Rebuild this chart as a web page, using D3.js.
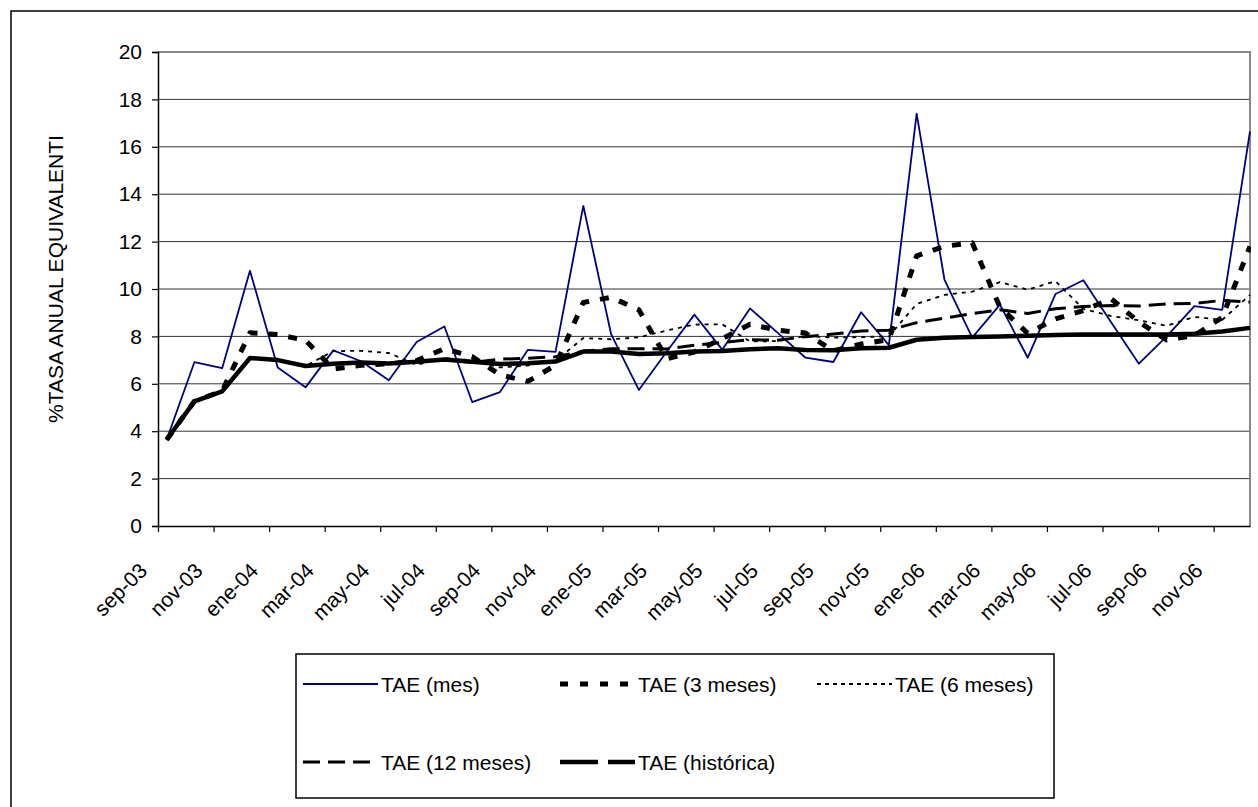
<!DOCTYPE html>
<html>
<head>
<meta charset="utf-8">
<script src="https://cdn.jsdelivr.net/npm/d3@7/dist/d3.min.js"></script>
<style>
  html, body { margin: 0; padding: 0; background: #fff; }
  svg { display: block; }
  text { font-family: "Liberation Sans", Arial, sans-serif; fill: #000; }
</style>
</head>
<body>
<svg id="chart" width="1258" height="807"></svg>
<script>
// ---------------- data ----------------
const months = ['sep-03','oct-03','nov-03','dic-03','ene-04','feb-04','mar-04','abr-04','may-04','jun-04',
  'jul-04','ago-04','sep-04','oct-04','nov-04','dic-04','ene-05','feb-05','mar-05','abr-05',
  'may-05','jun-05','jul-05','ago-05','sep-05','oct-05','nov-05','dic-05','ene-06','feb-06',
  'mar-06','abr-06','may-06','jun-06','jul-06','ago-06','sep-06','oct-06','nov-06','dic-06'];

const tickLabels = ['sep-03','nov-03','ene-04','mar-04','may-04','jul-04','sep-04','nov-04','ene-05','mar-05',
  'may-05','jul-05','sep-05','nov-05','ene-06','mar-06','may-06','jul-06','sep-06','nov-06'];

const yTicks = [0, 2, 4, 6, 8, 10, 12, 14, 16, 18, 20];

const taeMes = [3.64, 6.91, 6.66, 10.77, 6.69, 5.85, 7.41, 6.95, 6.15, 7.76,
  8.42, 5.23, 5.65, 7.43, 7.35, 13.51, 8.10, 5.74, 7.35, 8.92,
  7.44, 9.18, 8.15, 7.10, 6.92, 9.02, 7.63, 17.40, 10.40, 7.95,
  9.34, 7.10, 9.79, 10.37, 8.60, 6.85, 8.00, 9.28, 9.12, 16.65];

const tae3 = [3.64, 5.26, 5.70, 8.15, 8.08, 7.83, 6.62, 6.78, 6.84, 6.98,
  7.48, 7.15, 6.38, 6.10, 6.78, 9.43, 9.65, 9.12, 7.06, 7.34,
  7.90, 8.51, 8.26, 8.14, 7.39, 7.68, 7.86, 11.40, 11.80, 11.95,
  9.23, 8.13, 8.74, 9.09, 9.59, 8.61, 7.85, 8.04, 8.80, 11.80];

const tae6 = [3.64, 5.26, 5.68, 7.09, 7.00, 6.75, 7.38, 7.39, 7.30, 6.80,
  7.09, 6.99, 6.69, 6.77, 6.97, 7.93, 7.88, 7.96, 8.25, 8.50,
  8.51, 7.79, 7.80, 8.02, 7.95, 7.97, 8.00, 9.37, 9.75, 9.89,
  10.29, 9.97, 10.33, 9.16, 8.86, 8.68, 8.45, 8.82, 8.70, 9.75];

const tae12 = [3.64, 5.26, 5.68, 7.09, 7.00, 6.75, 6.85, 6.90, 6.86, 6.93,
  7.03, 6.90, 7.04, 7.08, 7.14, 7.37, 7.48, 7.48, 7.47, 7.63,
  7.74, 7.86, 7.84, 7.99, 8.10, 8.23, 8.26, 8.58, 8.77, 8.96,
  9.12, 8.97, 9.17, 9.26, 9.30, 9.28, 9.37, 9.39, 9.52, 9.45];

const taeHist = [3.64, 5.26, 5.68, 7.09, 7.00, 6.75, 6.85, 6.90, 6.86, 6.93,
  7.03, 6.93, 6.84, 6.87, 6.94, 7.36, 7.36, 7.26, 7.29, 7.36,
  7.38, 7.46, 7.50, 7.43, 7.42, 7.50, 7.52, 7.86, 7.94, 7.97,
  8.00, 8.03, 8.06, 8.08, 8.08, 8.08, 8.08, 8.11, 8.21, 8.36];

const seriesNames = ['TAE (mes)', 'TAE (3 meses)', 'TAE (6 meses)', 'TAE (12 meses)', 'TAE (hist\u00f3rica)'];

// ---------------- layout / styles ----------------
const W = 1258, H = 807;
const plot = { left: 158, right: 1250, top: 52, bottom: 526 };
const dateOffset = 0.31; // date-axis: tick marks sit slightly before each monthly point
const FONT = 21;

const styles = [
  { color: '#000080', width: 1.8, dash: null,   legendDash: null },
  { color: '#000',    width: 5,   dash: '9,11', legendDash: '8,12' },
  { color: '#000',    width: 1.8, dash: '4,5',  legendDash: '4,4' },
  { color: '#000',    width: 3,   dash: '17,8', legendDash: '17,8' },
  { color: '#000',    width: 4.5, dash: null,   legendDash: '38,10' }
];
const allSeries = [taeMes, tae3, tae6, tae12, taeHist];

const svg = d3.select('#chart');

// outer chart border
svg.append('rect').attr('x', 11).attr('y', 11).attr('width', W + 10).attr('height', H + 10)
  .attr('fill', '#fff').attr('stroke', '#000').attr('stroke-width', 1.5);

const x = d3.scaleLinear().domain([-dateOffset, months.length - 1]).range([plot.left, plot.right]);
const y = d3.scaleLinear().domain([0, 20]).range([plot.bottom, plot.top]);

// gridlines
svg.append('g').selectAll('line').data(yTicks.filter(v => v > 0 && v < 20)).join('line')
  .attr('x1', plot.left).attr('x2', plot.right)
  .attr('y1', d => y(d)).attr('y2', d => y(d))
  .attr('stroke', '#333').attr('stroke-width', 1);

// plot area border (gray top / right)
svg.append('path')
  .attr('d', `M${plot.left},${plot.top}H${plot.right}V${plot.bottom}`)
  .attr('fill', 'none').attr('stroke', '#888').attr('stroke-width', 2);

// y axis
const yAxis = svg.append('g').attr('transform', `translate(${plot.left},0)`)
  .call(d3.axisLeft(y).tickValues(yTicks).tickSize(6).tickPadding(10).tickFormat(d3.format('d')));
yAxis.select('.domain').attr('stroke', '#000').attr('stroke-width', 1.5);
yAxis.selectAll('.tick line').attr('stroke', '#000').attr('stroke-width', 1.2);
yAxis.selectAll('.tick text').attr('font-size', FONT).attr('font-family', '"Liberation Sans", Arial, sans-serif').attr('fill', '#000');

// x axis
const tickPos = tickLabels.map((_, j) => 2 * j - dateOffset);
const xAxis = svg.append('g').attr('transform', `translate(0,${plot.bottom})`)
  .call(d3.axisBottom(x).tickValues(tickPos).tickSize(6).tickSizeOuter(0)
    .tickFormat((d, j) => tickLabels[j]));
xAxis.select('.domain').attr('stroke', '#000').attr('stroke-width', 1.5);
xAxis.selectAll('.tick line').attr('stroke', '#000').attr('stroke-width', 1.2);
xAxis.selectAll('.tick text')
  .attr('font-size', FONT).attr('font-family', '"Liberation Sans", Arial, sans-serif').attr('fill', '#000')
  .attr('text-anchor', 'end').attr('dy', null).attr('y', 0)
  .attr('transform', 'translate(-10,46) rotate(-45)');

// y axis title
svg.append('text')
  .attr('transform', `translate(55,${(plot.top + plot.bottom) / 2 - 10}) rotate(-90)`)
  .attr('text-anchor', 'middle').attr('dominant-baseline', 'central')
  .attr('font-size', FONT).text('%TASA ANUAL EQUIVALENTI');

// clip
svg.append('clipPath').attr('id', 'clip').append('rect')
  .attr('x', plot.left).attr('y', plot.top - 10)
  .attr('width', plot.right - plot.left + 1).attr('height', plot.bottom - plot.top + 20);

const line = d3.line().x((d, i) => x(i)).y(d => y(d));
const gLines = svg.append('g').attr('clip-path', 'url(#clip)');
allSeries.forEach((s, k) => {
  const st = styles[k];
  gLines.append('path').datum(s)
    .attr('d', line)
    .attr('fill', 'none')
    .attr('stroke', st.color)
    .attr('stroke-width', st.width)
    .attr('stroke-linejoin', 'round')
    .attr('stroke-dasharray', st.dash);
});

// legend
const legend = { x: 296, y: 654, w: 758, h: 144 };
svg.append('rect').attr('x', legend.x).attr('y', legend.y).attr('width', legend.w).attr('height', legend.h)
  .attr('fill', '#fff').attr('stroke', '#000').attr('stroke-width', 1.5);
const colX = [303, 560, 817];
const rowY = [684, 762];
const sampleLen = 75;
seriesNames.forEach((name, k) => {
  const r = Math.floor(k / 3), c = k % 3;
  const st = styles[k];
  const lx = colX[c], ly = rowY[r];
  svg.append('line').attr('x1', lx).attr('x2', lx + sampleLen).attr('y1', ly).attr('y2', ly)
    .attr('stroke', st.color).attr('stroke-width', st.width)
    .attr('stroke-dasharray', st.legendDash);
  svg.append('text').attr('x', lx + sampleLen + 3).attr('y', ly)
    .attr('dominant-baseline', 'central').attr('font-size', FONT).text(name);
});
</script>
</body>
</html>
